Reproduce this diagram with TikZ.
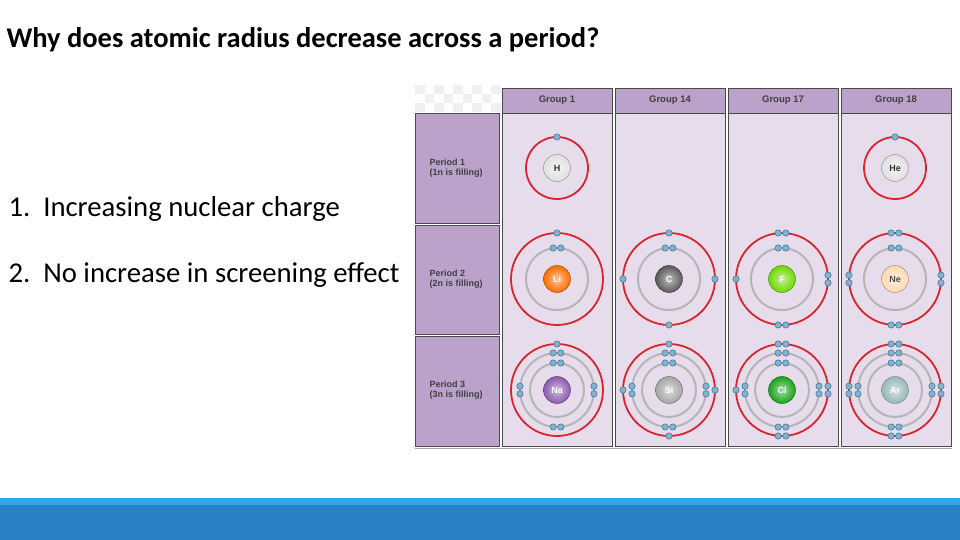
\documentclass[tikz,border=0pt]{standalone}
\usepackage{fontspec}
\setmainfont{Carlito}
\newfontfamily\hv{Liberation Sans}
\usetikzlibrary{calc}
\definecolor{panel}{HTML}{E6DCEB}
\definecolor{hdr}{HTML}{BBA2CB}
\definecolor{frame}{HTML}{4A4A4A}
\definecolor{ered}{HTML}{D9252E}
\definecolor{egray}{HTML}{B5B5B5}
\definecolor{ecol}{HTML}{7FB3CF}
\definecolor{edr}{HTML}{3F6F8C}
\definecolor{barA}{HTML}{2CA9E1}
\definecolor{barB}{HTML}{2A80C5}
\definecolor{napurple}{HTML}{8A5AAE}
\tikzset{
 el/.style={fill=ecol,draw=edr,line width=0.5pt},
 redshell/.style={draw=ered,line width=1.8pt},
 grayshell/.style={draw=egray,line width=2pt},
 cell/.style={fill=panel,draw=frame,line width=0.8pt},
 hcell/.style={fill=hdr,draw=frame,line width=0.8pt},
 htext/.style={font=\hv\bfseries\fontsize{9.5}{11}\selectfont,text=black!75},
 rtext/.style={font=\hv\bfseries\fontsize{9}{10.2}\selectfont,text=black!75,align=left,anchor=west},
 nlabel/.style={font=\hv\bfseries\fontsize{9}{10}\selectfont},
 listtext/.style={font=\fontsize{28.7}{32}\selectfont,anchor=west}
}
\newcommand\eone[4]{\draw[el] ($(#1,#2)+(#4:#3)$) circle (3.2);}
\newcommand\etwo[4]{\draw[el] ($(#1,#2)+(#4:#3)+(#4+90:3.8)$) circle (3.2);\draw[el] ($(#1,#2)+(#4:#3)+(#4-90:3.8)$) circle (3.2);}
\newcommand\nuc[5]{\colorlet{nucc}{#4}\shade[inner color=nucc!40!white,outer color=nucc] (#1,#2) circle (13.5);\draw[nucc!60!black,line width=0.4pt] (#1,#2) circle (13.5);\node[nlabel,text=#5] at (#1,#2) {#3};}
\newcommand\valence[4]{%
 \ifcase#4\or \eone{#1}{#2}{#3}{-90}%
 \or\or\or \eone{#1}{#2}{#3}{-90}\eone{#1}{#2}{#3}{90}\eone{#1}{#2}{#3}{0}\eone{#1}{#2}{#3}{180}%
 \or\or\or \etwo{#1}{#2}{#3}{-90}\etwo{#1}{#2}{#3}{90}\etwo{#1}{#2}{#3}{0}\eone{#1}{#2}{#3}{180}%
 \or \etwo{#1}{#2}{#3}{-90}\etwo{#1}{#2}{#3}{90}\etwo{#1}{#2}{#3}{0}\etwo{#1}{#2}{#3}{180}\fi}
\begin{document}
\begin{tikzpicture}[x=1pt,y=-1pt]
\useasboundingbox (0,0) rectangle (960,540);
\fill[white] (0,0) rectangle (960,540);
\node[anchor=west,font=\bfseries\fontsize{28.5}{32}\selectfont] (title) at (3,40) {Why does atomic radius decrease across a period?};
\node[listtext] (l1) at (5,209) {1.\ \ Increasing nuclear charge};
\node[listtext] (l2) at (5,275) {2.\ \ No increase in screening effect};
\foreach \i in {0,...,8}{\foreach \j in {0,...,2}{
 \pgfmathtruncatemacro\chk{mod(\i+\j,2)}\ifnum\chk=0
 \fill[black!6] (415+\i*9.5,85+\j*9) rectangle ++(9.5,9);\fi}}
\draw[hcell] (415,113) rectangle (499,223);
\draw[hcell] (415,225) rectangle (499,334);
\draw[hcell] (415,336) rectangle (499,446);
\node[rtext] (p1) at (426,168) {Period 1\\(1n is filling)};
\node[rtext] (p2) at (426,279) {Period 2\\(2n is filling)};
\node[rtext] (p3) at (426,390) {Period 3\\(3n is filling)};
\foreach \x/\g in {502/Group 1,615/Group 14,728/Group 17,841/Group 18}{
 \draw[cell] (\x,88) rectangle (\x+110,446);
 \draw[hcell] (\x,88) rectangle (\x+110,113);
 \node[htext] at (\x+55,100) {\g};
}
\draw[frame!50,line width=0.6pt] (415,448) -- (952,448);
\foreach \cx/\n/\c/\t in {557/H/black!12/black!80,895/He/black!12/black!80}{
 \draw[redshell] (\cx,168) circle (31);
 \nuc{\cx}{168}{\n}{\c}{\t}
 \eone{\cx}{168}{31}{-90}
}
\foreach \cx/\n/\c/\t/\v in {557/Li/orange!85!red/white/1,669/C/black!65/white/4,782/F/green!50!yellow!85!black/white/7,895/Ne/orange!30/black!70/8}{
 \draw[grayshell] (\cx,279) circle (31);
 \draw[redshell] (\cx,279) circle (46);
 \nuc{\cx}{279}{\n}{\c}{\t}
 \etwo{\cx}{279}{31}{-90}
 \valence{\cx}{279}{46}{\v}
}
\foreach \cx/\n/\c/\t/\v in {557/Na/napurple/white/1,669/Si/black!35/white/4,782/Cl/green!60!black!90/white/7,895/Ar/cyan!20!gray!70/white/8}{
 \draw[grayshell] (\cx,390) circle (27);
 \draw[grayshell] (\cx,390) circle (37);
 \draw[redshell] (\cx,390) circle (46);
 \nuc{\cx}{390}{\n}{\c}{\t}
 \etwo{\cx}{390}{27}{-90}
 \etwo{\cx}{390}{37}{-90}\etwo{\cx}{390}{37}{90}\etwo{\cx}{390}{37}{0}\etwo{\cx}{390}{37}{180}
 \valence{\cx}{390}{46}{\v}
}
\fill[barA] (0,498) rectangle (960,505);
\fill[barB] (0,505) rectangle (960,540);
\end{tikzpicture}
\end{document}
